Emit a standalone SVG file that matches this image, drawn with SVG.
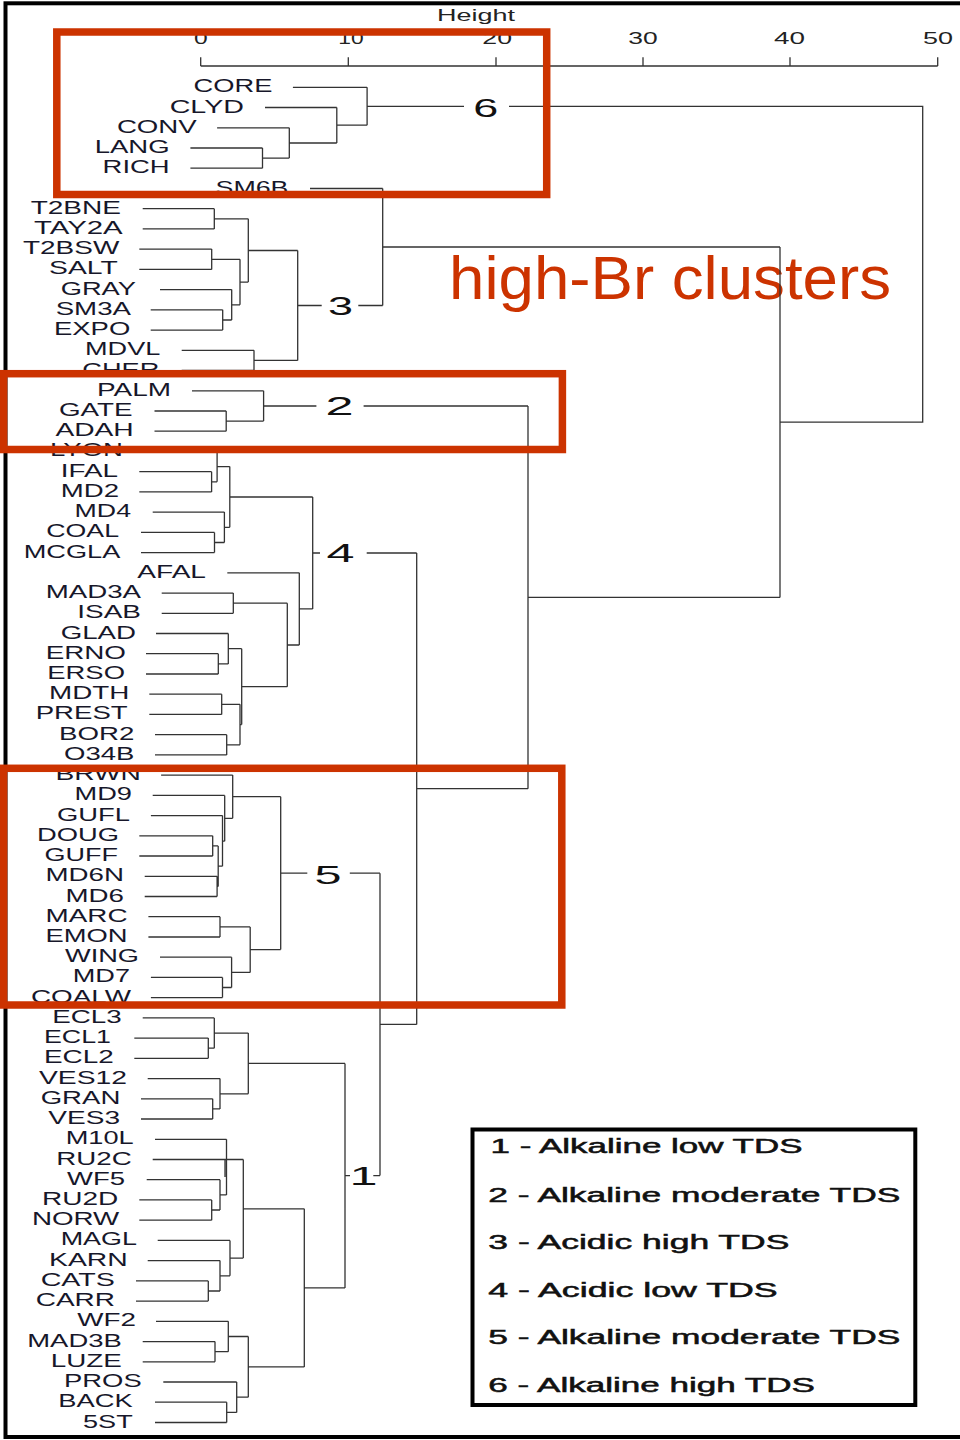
<svg xmlns="http://www.w3.org/2000/svg" width="960" height="1440" viewBox="0 0 960 1440">
<style>
.lb{font-family:"Liberation Sans",Arial,sans-serif;font-size:17.5px;fill:#17172a}
.num{font-family:"Liberation Sans",Arial,sans-serif;font-size:25px;fill:#111}
.tk{font-family:"Liberation Sans",Arial,sans-serif;font-size:16.3px;fill:#222}
.lg{font-family:"Liberation Sans",Arial,sans-serif;font-size:19.5px;fill:#111;stroke:#111;stroke-width:0.5}
.ln{fill:none;stroke:#333;stroke-width:1.3}
.rb{fill:none;stroke:#CC3300;stroke-width:7.5}
</style>
<rect width="960" height="1440" fill="#fff"/>
<rect x="5.5" y="3.3" width="965" height="1433.7" fill="none" stroke="#000" stroke-width="4"/>
<g id="axis">
<text class="tk" x="437" y="20.5" textLength="78" lengthAdjust="spacingAndGlyphs" style="font-size:16.5px">Height</text>
<path class="ln" d="M200.7 66H937.7M200.7 57.3V66M348.3 57.3V66M496 57.3V66M643 57.3V66M790 57.3V66M937.7 57.3V66"/>
<text class="tk" x="194" y="44" textLength="13.7" lengthAdjust="spacingAndGlyphs">0</text>
<text class="tk" x="338.3" y="44" textLength="25.4" lengthAdjust="spacingAndGlyphs">10</text>
<text class="tk" x="482.3" y="44" textLength="29.7" lengthAdjust="spacingAndGlyphs">20</text>
<text class="tk" x="628.3" y="44" textLength="29.4" lengthAdjust="spacingAndGlyphs">30</text>
<text class="tk" x="774" y="44" textLength="31" lengthAdjust="spacingAndGlyphs">40</text>
<text class="tk" x="923" y="44" textLength="30" lengthAdjust="spacingAndGlyphs">50</text>
</g>
<text id="annotation" x="449" y="299" textLength="442" lengthAdjust="spacingAndGlyphs" style="font-family:'Liberation Sans',Arial,sans-serif;font-size:62px;fill:#CC3300">high-Br clusters</text>
<g id="connectors" class="ln">
<path d="M292.9 87.3H367.1M265 107.5H336.8M217.1 127.8H289.3M190.4 148H262.5M190.4 168.2H262.5M262.5 148V168.2M262.5 158.1H289.3M289.3 127.8V158.1M289.3 143H336.8M336.8 107.5V143M336.8 125.2H367.1M367.1 87.3V125.2M367.1 106.3H464M509 106.3H922.7V422.2H780"/>
<path d="M310 188.5H382.7M142.7 208.7H214.3M142.7 228.9H214.3M214.3 208.7V228.9M214.3 218.8H248.3M139.3 249.1H211.7M139.3 269.4H211.7M211.7 249.1V269.4M211.7 259.3H240M160 289.6H231.7M150.7 309.8H222.7M150.7 330.1H222.7M222.7 309.8V330.1M222.7 320H231.7M231.7 289.6V320M231.7 304.8H240M240 259.3V304.8M240 282.1H248.3M248.3 218.8V282.1M248.3 250.5H297.7M181.7 350.3H254M181.7 370.5H254M254 350.3V370.5M254 360.4H297.7M297.7 250.5V360.4M297.7 305.5H321.7M358.3 305.5H382.7M382.7 188.5V305.5M382.7 247H780"/>
<path d="M192 390.8H263.6M154.5 411H226.2M154.5 431.2H226.2M226.2 411V431.2M226.2 421.1H263.6M263.6 390.8V421.1M263.6 406H316.4M363.6 406H528"/>
<path d="M143.5 451.4H217.1M139.3 471.7H211.6M139.3 491.9H211.6M211.6 471.7V491.9M211.6 481.8H217.1M217.1 451.4V481.8M217.1 466.6H229.8M152.7 512.1H224.4M141 532.4H214.5M141 552.6H214.5M214.5 532.4V552.6M214.5 542.5H224.4M224.4 512.1V542.5M224.4 527.3H229.8M229.8 466.6V527.3M229.8 497H312.7M227.3 572.8H299.3M161.7 593.1H233.3M161.7 613.3H233.3M233.3 593.1V613.3M233.3 603.2H287.3M156 633.5H228.3M146 653.7H218.3M146 674H218.3M218.3 653.7V674M218.3 663.9H228.3M228.3 633.5V663.9M228.3 648.7H241.7M149.3 694.2H221.7M149.3 714.4H221.7M221.7 694.2V714.4M221.7 704.3H240M155 734.7H226.7M155 754.9H226.7M226.7 734.7V754.9M226.7 744.8H240M240 704.3V744.8M240 724.6H241.7M241.7 648.7V724.6M241.7 686.7H287.3M287.3 603.2V686.7M287.3 645H299.3M299.3 572.8V645M299.3 608.9H312.7M312.7 497V608.9M312.7 553H320M366.7 553H416.7"/>
<path d="M161.1 775.1H232.7M152.7 795.4H224.7M150.9 815.6H222.5M139.3 835.8H212.7M139.3 856H212.7M212.7 835.8V856M212.7 845.9H218.2M144.7 876.3H217.1M144.7 896.5H217.1M217.1 876.3V896.5M217.1 886.4H218.2M218.2 845.9V886.4M218.2 866.2H222.5M222.5 815.6V866.2M222.5 841.2H224.7M224.7 795.4V841.2M224.7 818.3H232.7M232.7 775.1V818.3M232.7 796.7H280.7M148.4 916.7H220M148.4 937H220M220 916.7V937M220 926.9H250.2M160 957.2H231.6M150.9 977.4H222.5M150.9 997.6H222.5M222.5 977.4V997.6M222.5 987.5H231.6M231.6 957.2V987.5M231.6 972.4H250.2M250.2 926.9V972.4M250.2 949.6H280.7M280.7 796.7V949.6M280.7 873.2H307.3M349.8 873.2H380"/>
<path d="M142.7 1017.9H214.3M134.3 1038.1H208.3M134.3 1058.3H208.3M208.3 1038.1V1058.3M208.3 1048.2H214.3M214.3 1017.9V1048.2M214.3 1033.1H248.3M147.7 1078.6H220M141 1098.8H212.7M141 1119H212.7M212.7 1098.8V1119M212.7 1108.9H220M220 1078.6V1108.9M220 1093.8H248.3M248.3 1033.1V1093.8M248.3 1063.4H345M155 1139.3H226.5M152.7 1159.5H243.3M146.7 1179.7H220M139.3 1199.9H211.7M139.3 1220.2H211.7M211.7 1199.9V1220.2M211.7 1210H220M220 1179.7V1210M220 1194.9H226.5M226.5 1139.3V1194.9M225 1159.5V1177M157.7 1240.4H230M147.7 1260.6H220M136 1280.9H208.3M136 1301.1H208.3M208.3 1280.9V1301.1M208.3 1291H220M220 1260.6V1291M220 1275.8H230M230 1240.4V1275.8M230 1258.1H243.3M243.3 1159.5V1258.1M243.3 1208.8H304.3M156 1321.3H228.3M142.7 1341.6H215M142.7 1361.8H215M215 1341.6V1361.8M215 1351.7H228.3M228.3 1321.3V1351.7M228.3 1336.5H248.3M163.3 1382H236.7M155 1402.2H226.7M155 1422.5H226.7M226.7 1402.2V1422.5M226.7 1412.4H236.7M236.7 1382V1412.4M236.7 1397.2H248.3M248.3 1336.5V1397.2M248.3 1366.9H304.3M304.3 1208.8V1366.9M304.3 1287.9H345M345 1063.4V1287.9M345 1175.6H350M373.3 1175.6H380"/>
<path d="M380 873.2V1175.6M380 1024.4H416.7M416.7 553V1024.4M416.7 788.7H528M528 406V788.7M528 597.4H780M780 247V597.4"/>
</g>
<g id="cluster-labels">
<g id="c6"><text class="num" x="473.2" y="116.7" textLength="25" lengthAdjust="spacingAndGlyphs">6</text></g>
<g id="c3"><text class="num" x="328" y="315" textLength="25" lengthAdjust="spacingAndGlyphs">3</text></g>
<g id="c2"><text class="num" x="325.5" y="414.5" textLength="28" lengthAdjust="spacingAndGlyphs">2</text></g>
<g id="c4"><text class="num" x="326.5" y="562" textLength="28" lengthAdjust="spacingAndGlyphs">4</text></g>
<g id="c5"><text class="num" x="314.5" y="884" textLength="27" lengthAdjust="spacingAndGlyphs">5</text></g>
<g id="c1"><text class="num" x="349.5" y="1185" textLength="28" lengthAdjust="spacingAndGlyphs">1</text></g>
</g>
<g id="leaves" class="lb">
<g id="n-CORE"><text x="193.6" y="92.3" textLength="78.8" lengthAdjust="spacingAndGlyphs">CORE</text></g>
<g id="n-CLYD"><text x="169.7" y="112.5" textLength="74.2" lengthAdjust="spacingAndGlyphs">CLYD</text></g>
<g id="n-CONV"><text x="116.9" y="132.8" textLength="79.8" lengthAdjust="spacingAndGlyphs">CONV</text></g>
<g id="n-LANG"><text x="94.7" y="153" textLength="74.9" lengthAdjust="spacingAndGlyphs">LANG</text></g>
<g id="n-RICH"><text x="102.6" y="173.2" textLength="67" lengthAdjust="spacingAndGlyphs">RICH</text></g>
<g id="n-SM6B"><text x="215.5" y="193.5" textLength="73" lengthAdjust="spacingAndGlyphs">SM6B</text></g>
<g id="n-T2BNE"><text x="30.7" y="213.7" textLength="90.3" lengthAdjust="spacingAndGlyphs">T2BNE</text></g>
<g id="n-TAY2A"><text x="34" y="233.9" textLength="88.7" lengthAdjust="spacingAndGlyphs">TAY2A</text></g>
<g id="n-T2BSW"><text x="23" y="254.1" textLength="96.3" lengthAdjust="spacingAndGlyphs">T2BSW</text></g>
<g id="n-SALT"><text x="49" y="274.4" textLength="68.7" lengthAdjust="spacingAndGlyphs">SALT</text></g>
<g id="n-GRAY"><text x="60.7" y="294.6" textLength="75.3" lengthAdjust="spacingAndGlyphs">GRAY</text></g>
<g id="n-SM3A"><text x="55.7" y="314.8" textLength="75.3" lengthAdjust="spacingAndGlyphs">SM3A</text></g>
<g id="n-EXPO"><text x="54" y="335.1" textLength="76.3" lengthAdjust="spacingAndGlyphs">EXPO</text></g>
<g id="n-MDVL"><text x="85" y="355.3" textLength="75.3" lengthAdjust="spacingAndGlyphs">MDVL</text></g>
<g id="n-CHER"><text x="82.3" y="375.5" textLength="77" lengthAdjust="spacingAndGlyphs">CHER</text></g>
<g id="n-PALM"><text x="97" y="395.8" textLength="74" lengthAdjust="spacingAndGlyphs">PALM</text></g>
<g id="n-GATE"><text x="59" y="416" textLength="73.6" lengthAdjust="spacingAndGlyphs">GATE</text></g>
<g id="n-ADAH"><text x="55.4" y="436.2" textLength="78.3" lengthAdjust="spacingAndGlyphs">ADAH</text></g>
<g id="n-LYON"><text x="50" y="456.4" textLength="73" lengthAdjust="spacingAndGlyphs">LYON</text></g>
<g id="n-IFAL"><text x="60.8" y="476.7" textLength="57.2" lengthAdjust="spacingAndGlyphs">IFAL</text></g>
<g id="n-MD2"><text x="60.8" y="496.9" textLength="58.2" lengthAdjust="spacingAndGlyphs">MD2</text></g>
<g id="n-MD4"><text x="74.6" y="517.1" textLength="56.4" lengthAdjust="spacingAndGlyphs">MD4</text></g>
<g id="n-COAL"><text x="46.3" y="537.4" textLength="72.7" lengthAdjust="spacingAndGlyphs">COAL</text></g>
<g id="n-MCGLA"><text x="23.7" y="557.6" textLength="96.6" lengthAdjust="spacingAndGlyphs">MCGLA</text></g>
<g id="n-AFAL"><text x="137.3" y="577.8" textLength="68.7" lengthAdjust="spacingAndGlyphs">AFAL</text></g>
<g id="n-MAD3A"><text x="45.7" y="598.1" textLength="95.3" lengthAdjust="spacingAndGlyphs">MAD3A</text></g>
<g id="n-ISAB"><text x="77.3" y="618.3" textLength="63.7" lengthAdjust="spacingAndGlyphs">ISAB</text></g>
<g id="n-GLAD"><text x="60.7" y="638.5" textLength="75.3" lengthAdjust="spacingAndGlyphs">GLAD</text></g>
<g id="n-ERNO"><text x="45.7" y="658.7" textLength="80.3" lengthAdjust="spacingAndGlyphs">ERNO</text></g>
<g id="n-ERSO"><text x="47.3" y="679" textLength="77.7" lengthAdjust="spacingAndGlyphs">ERSO</text></g>
<g id="n-MDTH"><text x="49" y="699.2" textLength="80.3" lengthAdjust="spacingAndGlyphs">MDTH</text></g>
<g id="n-PREST"><text x="35.7" y="719.4" textLength="92" lengthAdjust="spacingAndGlyphs">PREST</text></g>
<g id="n-BOR2"><text x="59" y="739.7" textLength="75.3" lengthAdjust="spacingAndGlyphs">BOR2</text></g>
<g id="n-O34B"><text x="64" y="759.9" textLength="70.3" lengthAdjust="spacingAndGlyphs">O34B</text></g>
<g id="n-BRWN"><text x="55.4" y="780.1" textLength="85.6" lengthAdjust="spacingAndGlyphs">BRWN</text></g>
<g id="n-MD9"><text x="74.6" y="800.4" textLength="57.4" lengthAdjust="spacingAndGlyphs">MD9</text></g>
<g id="n-GUFL"><text x="57" y="820.6" textLength="73" lengthAdjust="spacingAndGlyphs">GUFL</text></g>
<g id="n-DOUG"><text x="37" y="840.8" textLength="82" lengthAdjust="spacingAndGlyphs">DOUG</text></g>
<g id="n-GUFF"><text x="44.5" y="861" textLength="73.5" lengthAdjust="spacingAndGlyphs">GUFF</text></g>
<g id="n-MD6N"><text x="45.5" y="881.3" textLength="78.5" lengthAdjust="spacingAndGlyphs">MD6N</text></g>
<g id="n-MD6"><text x="65.5" y="901.5" textLength="58.5" lengthAdjust="spacingAndGlyphs">MD6</text></g>
<g id="n-MARC"><text x="45.5" y="921.7" textLength="82" lengthAdjust="spacingAndGlyphs">MARC</text></g>
<g id="n-EMON"><text x="45.5" y="942" textLength="82" lengthAdjust="spacingAndGlyphs">EMON</text></g>
<g id="n-WING"><text x="65" y="962.2" textLength="74" lengthAdjust="spacingAndGlyphs">WING</text></g>
<g id="n-MD7"><text x="72.8" y="982.4" textLength="57.2" lengthAdjust="spacingAndGlyphs">MD7</text></g>
<g id="n-COALW"><text x="31" y="1002.6" textLength="100" lengthAdjust="spacingAndGlyphs">COALW</text></g>
<g id="n-ECL3"><text x="52.3" y="1022.9" textLength="69.4" lengthAdjust="spacingAndGlyphs">ECL3</text></g>
<g id="n-ECL1"><text x="44" y="1043.1" textLength="67" lengthAdjust="spacingAndGlyphs">ECL1</text></g>
<g id="n-ECL2"><text x="44" y="1063.3" textLength="69.7" lengthAdjust="spacingAndGlyphs">ECL2</text></g>
<g id="n-VES12"><text x="39" y="1083.6" textLength="88" lengthAdjust="spacingAndGlyphs">VES12</text></g>
<g id="n-GRAN"><text x="40.7" y="1103.8" textLength="79.6" lengthAdjust="spacingAndGlyphs">GRAN</text></g>
<g id="n-VES3"><text x="48.3" y="1124" textLength="71.7" lengthAdjust="spacingAndGlyphs">VES3</text></g>
<g id="n-M10L"><text x="65.7" y="1144.3" textLength="68" lengthAdjust="spacingAndGlyphs">M10L</text></g>
<g id="n-RU2C"><text x="56.3" y="1164.5" textLength="75.4" lengthAdjust="spacingAndGlyphs">RU2C</text></g>
<g id="n-WF5"><text x="67" y="1184.7" textLength="58" lengthAdjust="spacingAndGlyphs">WF5</text></g>
<g id="n-RU2D"><text x="42" y="1204.9" textLength="76.3" lengthAdjust="spacingAndGlyphs">RU2D</text></g>
<g id="n-NORW"><text x="32" y="1225.2" textLength="87.3" lengthAdjust="spacingAndGlyphs">NORW</text></g>
<g id="n-MAGL"><text x="60.7" y="1245.4" textLength="76.3" lengthAdjust="spacingAndGlyphs">MAGL</text></g>
<g id="n-KARN"><text x="49" y="1265.6" textLength="78.7" lengthAdjust="spacingAndGlyphs">KARN</text></g>
<g id="n-CATS"><text x="40.7" y="1285.9" textLength="74.3" lengthAdjust="spacingAndGlyphs">CATS</text></g>
<g id="n-CARR"><text x="35.7" y="1306.1" textLength="79.3" lengthAdjust="spacingAndGlyphs">CARR</text></g>
<g id="n-WF2"><text x="77.3" y="1326.3" textLength="58.7" lengthAdjust="spacingAndGlyphs">WF2</text></g>
<g id="n-MAD3B"><text x="27.3" y="1346.6" textLength="94.4" lengthAdjust="spacingAndGlyphs">MAD3B</text></g>
<g id="n-LUZE"><text x="50.7" y="1366.8" textLength="71" lengthAdjust="spacingAndGlyphs">LUZE</text></g>
<g id="n-PROS"><text x="64" y="1387" textLength="77.7" lengthAdjust="spacingAndGlyphs">PROS</text></g>
<g id="n-BACK"><text x="58.3" y="1407.2" textLength="74.4" lengthAdjust="spacingAndGlyphs">BACK</text></g>
<g id="n-5ST"><text x="83" y="1427.5" textLength="49.7" lengthAdjust="spacingAndGlyphs">5ST</text></g>
</g>
<g id="legend">
<rect x="472.5" y="1129.5" width="442.8" height="275.5" fill="none" stroke="#000" stroke-width="4"/>
<text class="lg" x="490.5" y="1153.3" textLength="312" lengthAdjust="spacingAndGlyphs">1 - Alkaline low TDS</text>
<text class="lg" x="488.3" y="1201.7" textLength="412" lengthAdjust="spacingAndGlyphs">2 - Alkaline moderate TDS</text>
<text class="lg" x="488.3" y="1249.3" textLength="301" lengthAdjust="spacingAndGlyphs">3 - Acidic high TDS</text>
<text class="lg" x="488.3" y="1296.7" textLength="289.4" lengthAdjust="spacingAndGlyphs">4 - Acidic low TDS</text>
<text class="lg" x="488.3" y="1344.3" textLength="412" lengthAdjust="spacingAndGlyphs">5 - Alkaline moderate TDS</text>
<text class="lg" x="488.3" y="1392.3" textLength="326.7" lengthAdjust="spacingAndGlyphs">6 - Alkaline high TDS</text>
</g>
<g id="highlight-boxes">
<rect class="rb" x="56.8" y="32" width="489.9" height="162.5"/>
<rect class="rb" x="3.6" y="373.7" width="558.8" height="75.8"/>
<rect class="rb" x="3.6" y="768.3" width="558.2" height="236.7"/>
</g>
</svg>
